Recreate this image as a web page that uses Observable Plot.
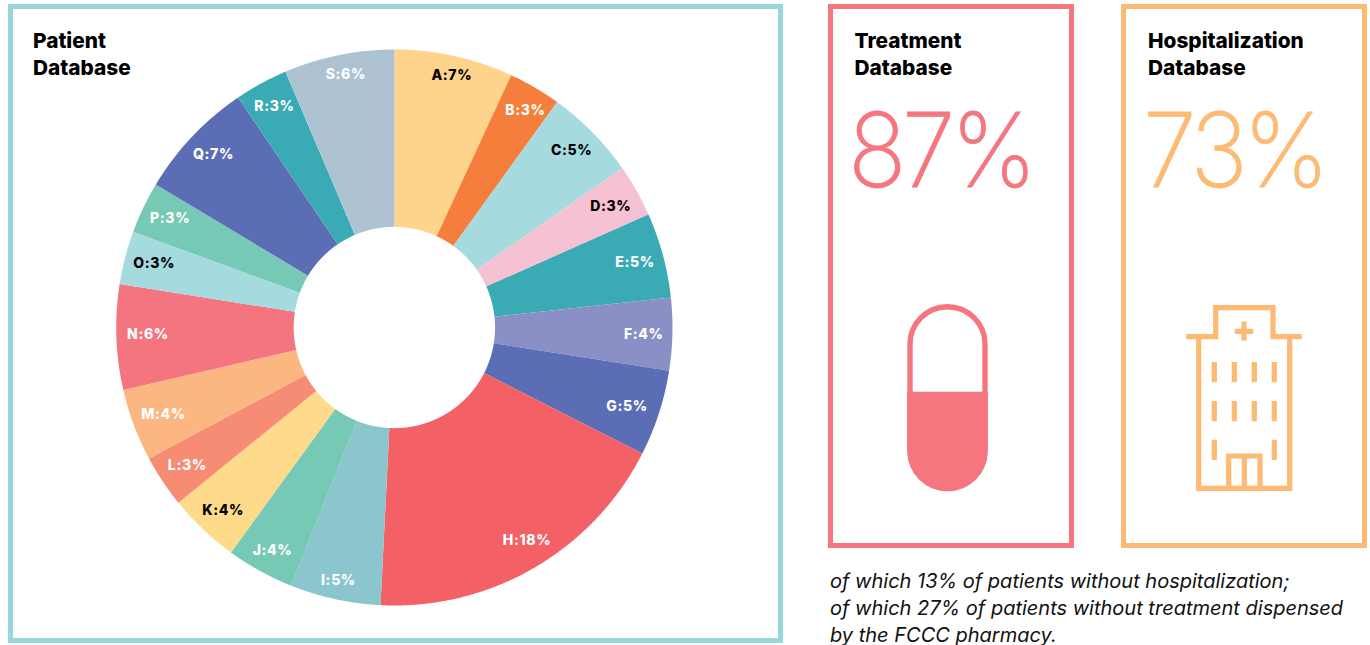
<!DOCTYPE html>
<html>
<head>
<meta charset="utf-8">
<script src="https://cdn.jsdelivr.net/npm/d3@7"></script>
<script src="https://cdn.jsdelivr.net/npm/@observablehq/plot@0.6"></script>
<style>
  html, body { margin: 0; padding: 0; background: #fff; }
  body { width: 1370px; height: 645px; position: relative; overflow: hidden; font-family: Inter, sans-serif; }
  .frame { position: absolute; box-sizing: border-box; border-style: solid; border-width: 5px; }
  .head { position: absolute; font: 800 20.8px/27px Inter, sans-serif; color: #000; }
  .big { position: absolute; font: 200 103px/104px Inter, sans-serif; letter-spacing: -5px; white-space: nowrap; transform: scaleX(0.94); transform-origin: left center; -webkit-text-stroke: 0.8px currentColor; }
  .note { position: absolute; left: 830px; top: 568px; font: italic 400 20px/27px Inter, sans-serif; color: #111; white-space: nowrap; }
  #chart { position: absolute; left: 0; top: 0; }
  svg.icon { position: absolute; left: 0; top: 0; pointer-events: none; }
</style>
</head>
<body>
<div class="frame" style="left:8px;top:4px;width:775px;height:639px;border-color:#97d7dc"></div>
<div id="chart"></div>
<div class="head" style="left:33px;top:27px">Patient<br>Database</div>

<div class="frame" style="left:828px;top:4px;width:246px;height:544px;border-color:#f5767f"></div>
<div class="head" style="left:854.5px;top:27px">Treatment<br>Database</div>
<div class="big" style="left:847.5px;top:98px;color:#f5767f">87%</div>

<div class="frame" style="left:1121px;top:4px;width:246px;height:544px;border-color:#fdba74"></div>
<div class="head" style="left:1148px;top:27px">Hospitalization<br>Database</div>
<div class="big" style="left:1143px;top:98px;color:#fdba74">73%</div>

<svg class="icon" width="1370" height="645">
  <g fill="none" stroke="#f5767f" stroke-width="5.4">
    <rect x="910" y="306.7" width="75" height="181.6" rx="37.5"/>
  </g>
  <path fill="#f5767f" d="M907.3 391.7H987.7V451A40.2 40.2 0 0 1 907.3 451Z"/>
  <g fill="none" stroke="#fdba74" stroke-width="5.2">
    <path d="M1186.3 336.7H1215.7V307.7H1273V336.7H1301.7"/>
    <path d="M1198.7 336.7V488.3H1289.7V336.7"/>
    <path d="M1234.8 331.3H1253.2M1244 321.5V340.5"/>
    <path d="M1214.3 362V382.3M1234.3 362V382.3M1254.3 362V382.3M1274.3 362V382.3"/>
    <path d="M1214.3 401V421.3M1234.3 401V421.3M1254.3 401V421.3M1274.3 401V421.3"/>
    <path d="M1214.3 439.7V460M1274.3 439.7V460"/>
    <path d="M1228.7 488.3V456H1260V488.3M1244.3 456V488.3"/>
  </g>
</svg>
<div class="note">of which 13% of patients without hospitalization;<br>of which 27% of patients without treatment dispensed<br>by the FCCC pharmacy.</div>

<script>
const names = ["A","B","C","D","E","F","G","H","I","J","K","L","M","N","O","P","Q","R","S"];
const shares = [6.9,3.05,5.33,3.05,4.95,4.2,5.0,18.3,5.25,3.95,4.15,3.05,4.2,6.1,3.1,3.0,6.9,3.1,6.4];
const printed = [7,3,5,3,5,4,5,18,5,4,4,3,4,6,3,3,7,3,6];
const colors = ["#fed48c","#f57e3c","#a5dbde","#f6c1d2","#3aaab5","#8a90c6","#5b6eb5","#f36065","#8bc6cf","#75c9b5","#feda8b","#f78c74","#fbb681","#f4757f","#a5dbdf","#75c9b5","#5b6eb5","#3aaab5","#aec3d1"];
const darkText = ["A","C","D","K","O"];
const labelShiftX = [2,1.5,-4,-3,0,3,-5,4,-1,2,4,3.5,3.5,0,1,2.5,4,3,3];
const labelShiftY = [0,4,2,3,0,1,2,-9,1,-2,-2,-2,-1,-2,-1,-1,1.5,4,0];

const innerRadius = 0.362;
const outerPx = 278;
const slices = d3.pie().sort(null).value(d => d)(shares).map((a, i) => ({name: names[i], startAngle: a.startAngle, endAngle: a.endAngle, pct: printed[i], i}));

// ring outline of each slice as a closed polygon, in unit-circle coordinates
const outline = slices.flatMap(s => {
  const n = Math.max(2, Math.ceil((s.endAngle - s.startAngle) / 0.004));
  const ts = d3.range(n + 1).map(k => s.startAngle + (s.endAngle - s.startAngle) * k / n);
  const pt = (t, r) => ({name: s.name, x: r * Math.sin(t), y: r * Math.cos(t)});
  return [...ts.map(t => pt(t, 1)), ...ts.slice().reverse().map(t => pt(t, innerRadius))];
});

const labels = slices.map(s => {
  const t = (s.startAngle + s.endAngle) / 2;
  const r = 246 + 12 * Math.abs(Math.cos(t));
  return {
    name: s.name,
    text: `${s.name}:${s.pct}%`,
    x: (r * Math.sin(t) + labelShiftX[s.i]) / outerPx,
    y: (r * Math.cos(t) - labelShiftY[s.i]) / outerPx,
    dark: darkText.includes(s.name)
  };
});

const plot = Plot.plot({
  width: 790, height: 645,
  margin: 0,
  style: {background: "transparent", fontFamily: "Inter, sans-serif", letterSpacing: "0.6px"},
  x: {domain: [-1, 1], range: [115.7, 672], axis: null},
  y: {domain: [-1, 1], range: [605, 49], axis: null},
  color: {domain: names, range: colors},
  marks: [
    Plot.line(outline, {x: "x", y: "y", z: "name", fill: "name", stroke: "none"}),
    Plot.text(labels, {
      x: "x", y: "y", text: "text",
      fill: d => d.dark ? "#000" : "#fff",
      fontSize: 14, fontWeight: 800, lineAnchor: "middle", textAnchor: "middle"
    })
  ]
});
document.getElementById("chart").append(plot);
</script>
</body>
</html>
